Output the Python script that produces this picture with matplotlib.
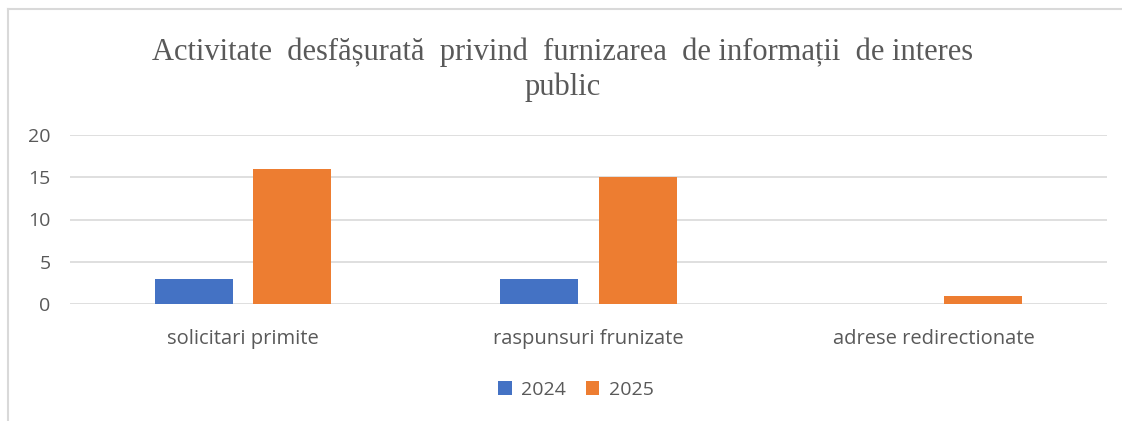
import matplotlib.pyplot as plt
import numpy as np
from matplotlib.lines import Line2D

categories = ["solicitari primite", "raspunsuri frunizate", "adrese redirectionate"]
years = ["2024", "2025"]
values_2024 = [3, 3, 0]
values_2025 = [16, 15, 1]
y_ticks = [0, 5, 10, 15, 20]
title_lines = [
    "Activitate  desfășurată  privind  furnizarea  de informații  de interes",
    "public",
]

BLUE = "#4472C4"
ORANGE = "#ED7D31"
TEXT = "#595959"
GRID = "#D9D9D9"

fig = plt.figure(figsize=(11.22, 4.21), dpi=100)
ax = fig.add_axes([70 / 1122, 117 / 421, 1037 / 1122, 169 / 421])

x = np.arange(len(categories))
width = 0.226
offset = 0.142
ax.bar(x - offset, values_2024, width, color=BLUE, label=years[0], zorder=3)
ax.bar(x + offset, values_2025, width, color=ORANGE, label=years[1], zorder=3)

ax.set_xlim(-0.5, len(categories) - 0.5)
ax.set_ylim(0, 20)
ax.set_yticks(y_ticks)
ax.set_xticks(x)
ax.set_xticklabels(categories)
ax.grid(axis="y", color=GRID, linewidth=1.2, zorder=0)
for spine in ax.spines.values():
    spine.set_visible(False)
ax.tick_params(axis="both", length=0, labelcolor=TEXT, labelsize=14)
ax.tick_params(axis="x", pad=18, labelsize=14.5)
ax.tick_params(axis="y", pad=14)
for lbl in ax.get_xticklabels() + ax.get_yticklabels():
    lbl.set_fontfamily("Open Sans")

# title in serif, two lines
fig.text(563 / 1122, 1 - 60 / 421, title_lines[0], ha="center", va="baseline",
         fontsize=22, family="Liberation Serif", color=TEXT)
fig.text(563 / 1122, 1 - 95 / 421, title_lines[1], ha="center", va="baseline",
         fontsize=22, family="Liberation Serif", color=TEXT)

leg = fig.legend(loc="center", bbox_to_anchor=(576 / 1122, 1 - 390 / 421), ncol=2,
                 frameon=False, handlelength=0.7, handleheight=0.7, columnspacing=1.0,
                 handletextpad=0.5, prop={"family": "Open Sans", "size": 14})
for t in leg.get_texts():
    t.set_color(TEXT)

# chart frame (left and top edges visible)
fig.add_artist(Line2D([8 / 1122, 8 / 1122], [0, 1 - 9 / 421], color=GRID, linewidth=1.5))
fig.add_artist(Line2D([8 / 1122, 1], [1 - 9 / 421, 1 - 9 / 421], color=GRID, linewidth=1.5))

fig.savefig("out.png", dpi=100)
